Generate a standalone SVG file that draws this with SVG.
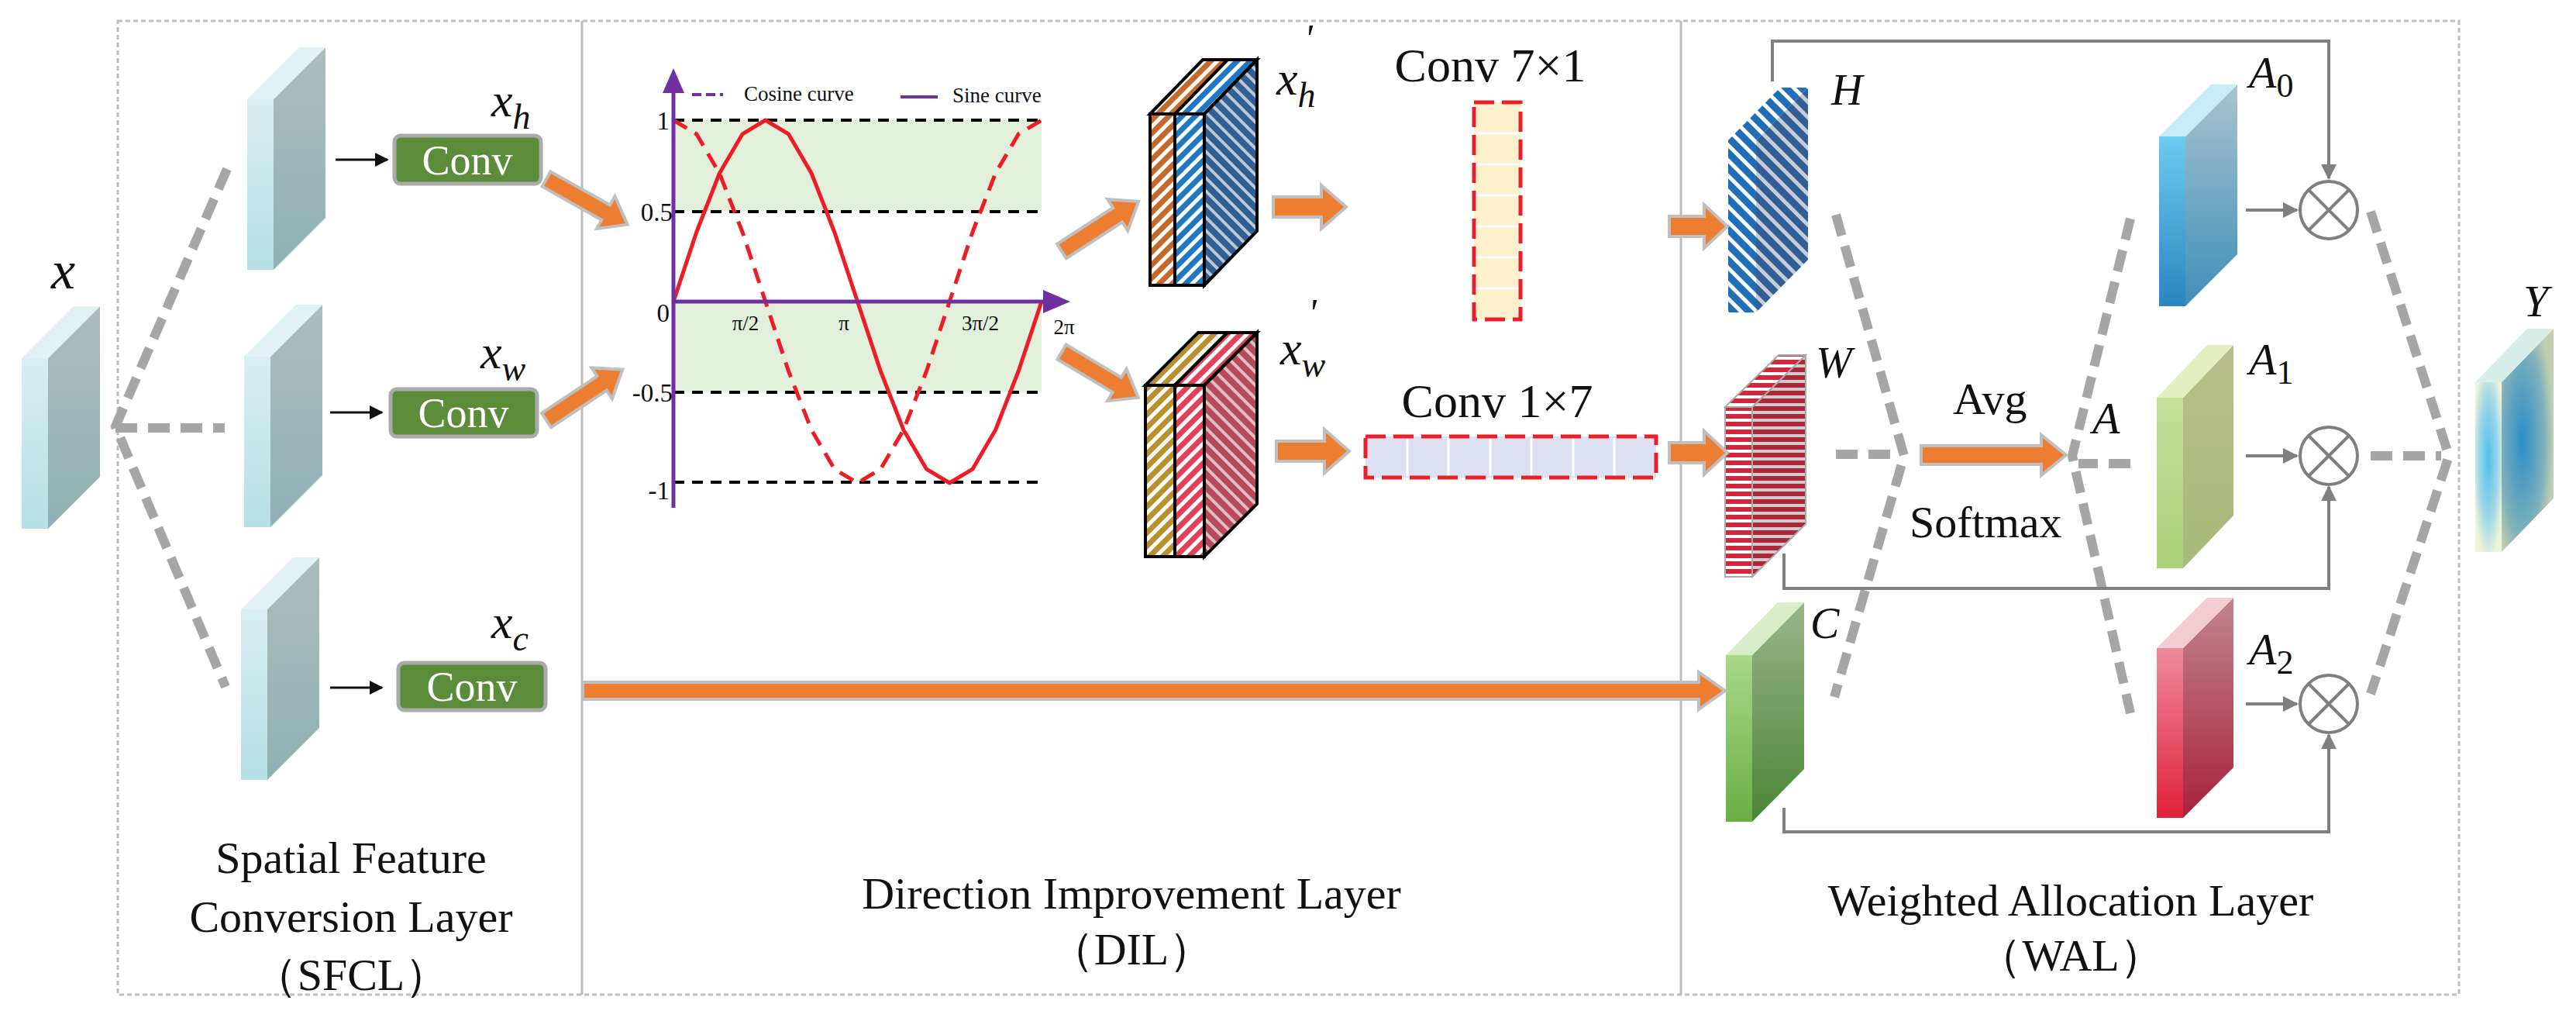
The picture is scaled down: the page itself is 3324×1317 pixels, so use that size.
<svg xmlns="http://www.w3.org/2000/svg" width="3324" height="1317" viewBox="0 0 3324 1317">
<style>
.t{font-family:"Liberation Serif",serif;fill:#111}
.m{font-family:"Liberation Serif",serif;font-style:italic;fill:#111}
.dash{fill:none;stroke:#a6a6a6;stroke-width:12;stroke-dasharray:28 14}
.gl{fill:none;stroke:#7f7f7f;stroke-width:4}
.oa{fill:#ed7d31;stroke:#bfbfbf;stroke-width:4}
.conv rect{fill:#5b8c3a;stroke:#aaaaaa;stroke-width:5}
.conv text{font-family:"Liberation Serif",serif;fill:#fff;font-size:54px}
.hl{stroke:#000;stroke-width:4;stroke-dasharray:14 10}
.cub{stroke:#000;stroke-width:4}
</style>
<defs>
<linearGradient id="gf" x1="0" y1="0" x2="0" y2="1"><stop offset="0" stop-color="#d8eef2"/><stop offset="1" stop-color="#b5dfe3"/></linearGradient>
<linearGradient id="gs" x1="0" y1="0" x2="0" y2="1"><stop offset="0" stop-color="#aebcbc"/><stop offset="1" stop-color="#8fb1b3"/></linearGradient>
<linearGradient id="a0f" x1="0" y1="0" x2="0" y2="1"><stop offset="0" stop-color="#6ccbf0"/><stop offset="1" stop-color="#2b85c0"/></linearGradient>
<linearGradient id="a0s" x1="0" y1="0" x2="0" y2="1"><stop offset="0" stop-color="#a9c3cf"/><stop offset="1" stop-color="#3f8fb8"/></linearGradient>
<linearGradient id="a1f" x1="0" y1="0" x2="0" y2="1"><stop offset="0" stop-color="#c6e09a"/><stop offset="1" stop-color="#a9d17a"/></linearGradient>
<linearGradient id="a1s" x1="0" y1="0" x2="0" y2="1"><stop offset="0" stop-color="#b8be8a"/><stop offset="1" stop-color="#a8b87a"/></linearGradient>
<linearGradient id="a2f" x1="0" y1="0" x2="0" y2="1"><stop offset="0" stop-color="#ee8a9a"/><stop offset="1" stop-color="#e0223a"/></linearGradient>
<linearGradient id="a2s" x1="0" y1="0" x2="0" y2="1"><stop offset="0" stop-color="#c08590"/><stop offset="1" stop-color="#a8223a"/></linearGradient>
<linearGradient id="cf" x1="0" y1="0" x2="0" y2="1"><stop offset="0" stop-color="#a8d88a"/><stop offset="1" stop-color="#6aae44"/></linearGradient>
<linearGradient id="cs" x1="0" y1="0" x2="0" y2="1"><stop offset="0" stop-color="#9ab58a"/><stop offset="1" stop-color="#4a8436"/></linearGradient>
<radialGradient id="yf" cx="0.5" cy="0.45" r="0.6"><stop offset="0" stop-color="#4fc0ea"/><stop offset="0.6" stop-color="#9fd7e8"/><stop offset="1" stop-color="#eef4d8"/></radialGradient>
<radialGradient id="ys" cx="0.4" cy="0.5" r="0.6"><stop offset="0" stop-color="#2a8fc8"/><stop offset="0.7" stop-color="#7fb0bb"/><stop offset="1" stop-color="#bfcfb0"/></radialGradient>
<pattern id="pOr" width="12" height="12" patternUnits="userSpaceOnUse" patternTransform="rotate(45)"><rect width="12" height="12" fill="#c5692b"/><rect width="5" height="12" fill="#fff"/></pattern>
<pattern id="pBl" width="12" height="12" patternUnits="userSpaceOnUse" patternTransform="rotate(45)"><rect width="12" height="12" fill="#1f78c1"/><rect width="5" height="12" fill="#fff"/></pattern>
<pattern id="pDb" width="12" height="12" patternUnits="userSpaceOnUse" patternTransform="rotate(-45)"><rect width="12" height="12" fill="#2f5f96"/><rect width="4" height="12" fill="#bfc8d0"/></pattern>
<pattern id="pGd" width="12" height="12" patternUnits="userSpaceOnUse" patternTransform="rotate(45)"><rect width="12" height="12" fill="#b8902c"/><rect width="5" height="12" fill="#fff"/></pattern>
<pattern id="pRd" width="12" height="12" patternUnits="userSpaceOnUse" patternTransform="rotate(45)"><rect width="12" height="12" fill="#e0405a"/><rect width="5" height="12" fill="#fff"/></pattern>
<pattern id="pDr" width="12" height="12" patternUnits="userSpaceOnUse" patternTransform="rotate(-45)"><rect width="12" height="12" fill="#b8485a"/><rect width="4" height="12" fill="#d8c0c4"/></pattern>
<pattern id="pH" width="14" height="14" patternUnits="userSpaceOnUse" patternTransform="rotate(-45)"><rect width="14" height="14" fill="#1f6fb8"/><rect width="5" height="14" fill="#fff"/></pattern>
<pattern id="pHs" width="14" height="14" patternUnits="userSpaceOnUse" patternTransform="rotate(-45)"><rect width="14" height="14" fill="#2f5f96"/><rect width="5" height="14" fill="#c8ccd4"/></pattern>
<pattern id="pW" width="10" height="10" patternUnits="userSpaceOnUse"><rect width="10" height="10" fill="#d0283c"/><rect width="10" height="4" fill="#fff"/></pattern>
<pattern id="pWs" width="10" height="10" patternUnits="userSpaceOnUse"><rect width="10" height="10" fill="#a82a38"/><rect width="10" height="4" fill="#d8c8cc"/></pattern>
<g id="blk"><rect x="0" y="0" width="34" height="220" fill="url(#gf)"/><path d="M34,0 L101,-67 L101,153 L34,220 Z" fill="url(#gs)"/><path d="M0,0 L67,-67 L101,-67 L34,0 Z" fill="#e2f2f4"/></g>
<marker id="ah" viewBox="0 0 10 10" refX="9" refY="5" markerWidth="5" markerHeight="5" orient="auto"><path d="M0,0 L10,5 L0,10 Z" fill="#7f7f7f"/></marker>
<marker id="ak" viewBox="0 0 10 10" refX="9" refY="5" markerWidth="6" markerHeight="6" orient="auto"><path d="M0,0 L10,5 L0,10 Z" fill="#111"/></marker>
</defs>
<rect width="3324" height="1317" fill="#fff"/>
<!-- frame -->
<g id="frame" fill="none" stroke="#bdbdbd" stroke-width="3">
<rect x="152" y="27" width="3021" height="1256" stroke-dasharray="6 4"/>
<line x1="751" y1="27" x2="751" y2="1283"/>
<line x1="2169" y1="27" x2="2169" y2="1283"/>
</g>
<!-- input -->
<g id="input"><use href="#blk" x="28" y="462"/><text class="m" x="66" y="372" font-size="70">x</text></g>
<g id="sfcl">
<use href="#blk" x="319" y="128"/><use href="#blk" x="315" y="460"/><use href="#blk" x="311" y="786"/>
</g>
<g id="conv_h" class="conv"><rect x="509" y="175" width="189" height="62" rx="8"/><text x="603" y="225" text-anchor="middle">Conv</text></g>
<g id="conv_w" class="conv"><rect x="504" y="502" width="189" height="61" rx="8"/><text x="598" y="551" text-anchor="middle">Conv</text></g>
<g id="conv_c" class="conv"><rect x="514" y="855" width="190" height="61" rx="8"/><text x="609" y="904" text-anchor="middle">Conv</text></g>
<g id="labels_sfcl">
<text class="m" x="634" y="150" font-size="62">x<tspan font-size="46" dy="16">h</tspan></text>
<text class="m" x="620" y="475" font-size="62">x<tspan font-size="46" dy="16">w</tspan></text>
<text class="m" x="634" y="823" font-size="62">x<tspan font-size="46" dy="16">c</tspan></text>
<text class="t" x="453" y="1126" font-size="58" text-anchor="middle">Spatial Feature</text>
<text class="t" x="453" y="1202" font-size="58" text-anchor="middle">Conversion Layer</text>
<text class="t" x="453" y="1277" font-size="58" text-anchor="middle">（SFCL）</text>
</g>
<!-- chart -->
<g id="chart">
<rect x="869" y="155" width="475" height="118" fill="#e2efda"/>
<rect x="869" y="389" width="475" height="117" fill="#e2efda"/>
<g class="hl"><line x1="869" y1="155" x2="1344" y2="155"/><line x1="869" y1="273" x2="1344" y2="273"/><line x1="869" y1="506" x2="1344" y2="506"/><line x1="869" y1="622" x2="1344" y2="622"/></g>
<polyline fill="none" stroke="#ee1c25" stroke-width="5" stroke-linejoin="round" points="869,389 898.7,299.5 928.4,223.5 958.1,172.8 987.75,155 1017.4,172.8 1047.1,223.5 1076.8,299.5 1106.5,389 1136.2,478.5 1165.9,554.5 1195.6,605.2 1225.25,623 1254.9,605.2 1284.6,554.5 1314.3,478.5 1344,389"/>
<polyline fill="none" stroke="#ee1c25" stroke-width="5" stroke-dasharray="20 12" points="869,155 898.7,172.8 928.4,223.5 958.1,299.5 987.75,389 1017.4,478.5 1047.1,554.5 1076.8,605.2 1106.5,623 1136.2,605.2 1165.9,554.5 1195.6,478.5 1225.25,389 1254.9,299.5 1284.6,223.5 1314.3,172.8 1344,155"/>
<line x1="869" y1="655" x2="869" y2="110" stroke="#7030a0" stroke-width="5"/>
<path d="M869,88 L855,120 L883,120 Z" fill="#7030a0"/>
<line x1="869" y1="389" x2="1350" y2="389" stroke="#7030a0" stroke-width="5"/>
<path d="M1381,389 L1346,374 L1346,404 Z" fill="#7030a0"/>
<line x1="893" y1="122" x2="933" y2="122" stroke="#7030a0" stroke-width="4" stroke-dasharray="12 6"/>
<line x1="1162" y1="125" x2="1210" y2="125" stroke="#7030a0" stroke-width="4"/>
<g class="t" font-size="27"><text x="960" y="130">Cosine curve</text><text x="1229" y="132">Sine curve</text></g>
<g class="t" font-size="33" text-anchor="end"><text x="864" y="167">1</text><text x="868" y="285">0.5</text><text x="864" y="415">0</text><text x="868" y="518">-0.5</text><text x="864" y="644">-1</text></g>
<g class="t" font-size="27" text-anchor="middle"><text x="962" y="426">π/2</text><text x="1089" y="426">π</text><text x="1265" y="426">3π/2</text><text x="1373" y="431">2π</text></g>
</g>
<!-- cubes -->
<g id="xh_cube" class="cub">
<path d="M1484,147 L1552,77 L1590,77 L1522,147 Z" fill="url(#pOr)"/>
<path d="M1516,147 L1584,77 L1622,77 L1554,147 Z" fill="url(#pBl)"/>
<path d="M1554,147 L1622,77 L1622,298 L1554,368 Z" fill="url(#pDb)"/>
<rect x="1484" y="147" width="32" height="221" fill="url(#pOr)"/>
<rect x="1516" y="147" width="38" height="221" fill="url(#pBl)"/>
<text class="m" x="1647" y="122" font-size="62" stroke="none">x<tspan font-size="46" dy="16">h</tspan></text>
<text class="m" x="1683" y="66" font-size="50" stroke="none">'</text>
</g>
<g id="xw_cube" class="cub">
<path d="M1478,497 L1546,429 L1584,429 L1516,497 Z" fill="url(#pGd)"/>
<path d="M1516,497 L1584,429 L1622,429 L1554,497 Z" fill="url(#pRd)"/>
<path d="M1554,497 L1622,429 L1622,650 L1554,718 Z" fill="url(#pDr)"/>
<rect x="1478" y="497" width="38" height="221" fill="url(#pGd)"/>
<rect x="1516" y="497" width="38" height="221" fill="url(#pRd)"/>
<text class="m" x="1652" y="470" font-size="62" stroke="none">x<tspan font-size="46" dy="16">w</tspan></text>
<text class="m" x="1688" y="420" font-size="50" stroke="none">'</text>
</g>
<g id="k71">
<text class="t" x="1923" y="105" font-size="62" text-anchor="middle">Conv 7×1</text>
<rect x="1902" y="132" width="60" height="280" fill="#fcf1cc"/>
<g stroke="#fff" stroke-width="3"><line x1="1904" y1="172" x2="1960" y2="172"/><line x1="1904" y1="212" x2="1960" y2="212"/><line x1="1904" y1="252" x2="1960" y2="252"/><line x1="1904" y1="292" x2="1960" y2="292"/><line x1="1904" y1="332" x2="1960" y2="332"/><line x1="1904" y1="372" x2="1960" y2="372"/></g>
<rect x="1902" y="132" width="60" height="280" fill="none" stroke="#e8202a" stroke-width="5" stroke-dasharray="26 10"/>
</g>
<g id="k17">
<text class="t" x="1932" y="538" font-size="62" text-anchor="middle">Conv 1×7</text>
<rect x="1762" y="563" width="375" height="53" fill="#dde0f0"/>
<g stroke="#fff" stroke-width="3"><line x1="1816" y1="565" x2="1816" y2="614"/><line x1="1869" y1="565" x2="1869" y2="614"/><line x1="1923" y1="565" x2="1923" y2="614"/><line x1="1976" y1="565" x2="1976" y2="614"/><line x1="2030" y1="565" x2="2030" y2="614"/><line x1="2083" y1="565" x2="2083" y2="614"/></g>
<rect x="1762" y="563" width="375" height="53" fill="none" stroke="#e8202a" stroke-width="5" stroke-dasharray="26 10"/>
</g>
<g id="dil_label"><text class="t" x="1460" y="1172" font-size="58" text-anchor="middle">Direction Improvement Layer</text><text class="t" x="1460" y="1244" font-size="58" text-anchor="middle">（DIL）</text></g>
<!-- WAL blocks -->
<g id="H"><rect x="2230" y="181" width="36" height="222" fill="url(#pH)"/><path d="M2266,181 L2333,113 L2333,335 L2266,403 Z" fill="url(#pHs)"/><path d="M2230,181 L2297,113 L2333,113 L2266,181 Z" fill="url(#pH)"/><text class="m" x="2363" y="135" font-size="56">H</text></g>
<g id="W"><rect x="2226" y="525" width="35" height="219" fill="url(#pW)" stroke="#aaa" stroke-width="2"/><path d="M2261,525 L2330,458 L2330,676 L2261,744 Z" fill="url(#pWs)" stroke="#aaa" stroke-width="2"/><path d="M2226,525 L2295,458 L2330,458 L2261,525 Z" fill="url(#pW)" stroke="#aaa" stroke-width="2"/><text class="m" x="2343" y="487" font-size="56">W</text></g>
<g id="C"><rect x="2227" y="845" width="34" height="215" fill="url(#cf)"/><path d="M2261,845 L2328,777 L2328,992 L2261,1060 Z" fill="url(#cs)"/><path d="M2227,845 L2294,777 L2328,777 L2261,845 Z" fill="#d8ecc8"/><text class="m" x="2336" y="823" font-size="56">C</text></g>
<g id="A0"><rect x="2786" y="176" width="34" height="219" fill="url(#a0f)"/><path d="M2820,176 L2887,109 L2887,328 L2820,395 Z" fill="url(#a0s)"/><path d="M2786,176 L2853,109 L2887,109 L2820,176 Z" fill="#c8ecf8"/><text class="m" x="2902" y="113" font-size="58">A<tspan font-size="44" dy="12" font-style="normal">0</tspan></text></g>
<g id="A1"><rect x="2783" y="513" width="34" height="220" fill="url(#a1f)"/><path d="M2817,513 L2882,445 L2882,665 L2817,733 Z" fill="url(#a1s)"/><path d="M2783,513 L2848,445 L2882,445 L2817,513 Z" fill="#e4efc0"/><text class="m" x="2902" y="483" font-size="58">A<tspan font-size="44" dy="12" font-style="normal">1</tspan></text></g>
<g id="A2"><rect x="2783" y="836" width="34" height="219" fill="url(#a2f)"/><path d="M2817,836 L2882,771 L2882,990 L2817,1055 Z" fill="url(#a2s)"/><path d="M2783,836 L2848,771 L2882,771 L2817,836 Z" fill="#f6ccd4"/><text class="m" x="2902" y="857" font-size="58">A<tspan font-size="44" dy="12" font-style="normal">2</tspan></text></g>
<g id="Y"><rect x="3194" y="493" width="34" height="219" fill="url(#yf)"/><path d="M3228,493 L3295,424 L3295,643 L3228,712 Z" fill="url(#ys)"/><path d="M3194,493 L3261,424 L3295,424 L3228,493 Z" fill="#d8eee8"/><text class="m" x="3256" y="408" font-size="58">Y</text></g>
<g id="mul" fill="none" stroke="#7f7f7f" stroke-width="4">
<circle cx="3005" cy="271" r="37"/><path d="M2979,245 L3031,297 M3031,245 L2979,297"/>
<circle cx="3005" cy="588" r="37"/><path d="M2979,562 L3031,614 M3031,562 L2979,614"/>
<circle cx="3005" cy="908" r="37"/><path d="M2979,882 L3031,934 M3031,882 L2979,934"/>
</g>
<g id="wal_text"><text class="t" x="2520" y="534" font-size="58">Avg</text><text class="t" x="2464" y="693" font-size="58">Softmax</text><text class="m" x="2700" y="559" font-size="58">A</text>
<text class="t" x="2672" y="1181" font-size="58" text-anchor="middle">Weighted Allocation Layer</text><text class="t" x="2672" y="1252" font-size="58" text-anchor="middle">（WAL）</text></g>
<!-- connectors -->
<g id="connectors">
<path class="dash" d="M293,218 L149,550 L291,886 M149,552 L290,552"/>
<path class="dash" d="M2369,277 L2457,588 L2367,899 M2369,586 L2450,586"/>
<path class="dash" d="M2749,282 L2674,588 L2749,920 M2749,598 L2682,598"/>
<path class="dash" d="M3059,273 L3160,588 L3059,895 M3059,588 L3150,588"/>
<line x1="433" y1="206" x2="500" y2="206" stroke="#111" stroke-width="3" marker-end="url(#ak)"/>
<line x1="426" y1="532" x2="493" y2="532" stroke="#111" stroke-width="3" marker-end="url(#ak)"/>
<line x1="426" y1="887" x2="493" y2="887" stroke="#111" stroke-width="3" marker-end="url(#ak)"/>
<path class="gl" d="M2287,105 V53 H3005 V230" marker-end="url(#ah)"/>
<path class="gl" d="M2302,714 V759 H3005 V628" marker-end="url(#ah)"/>
<path class="gl" d="M2302,1042 V1073 H3005 V948" marker-end="url(#ah)"/>
<line class="gl" x1="2898" y1="271" x2="2964" y2="271" marker-end="url(#ah)"/>
<line class="gl" x1="2898" y1="588" x2="2964" y2="588" marker-end="url(#ah)"/>
<line class="gl" x1="2898" y1="908" x2="2964" y2="908" marker-end="url(#ah)"/>
<path class="oa" transform="translate(705,231) rotate(29.3)" d="M0,-11 H88 V-24 L120,0 L88,24 V11 H0 Z"/>
<path class="oa" transform="translate(705,542) rotate(-33.6)" d="M0,-11 H86 V-24 L118,0 L86,24 V11 H0 Z"/>
<path class="oa" transform="translate(752,891)" d="M0,-11 H1440 V-24 L1474,0 L1440,24 V11 H0 Z"/>
<path class="oa" transform="translate(1370,324) rotate(-32.9)" d="M0,-11 H86 V-24 L118,0 L86,24 V11 H0 Z"/>
<path class="oa" transform="translate(1370,454) rotate(30.8)" d="M0,-11 H83 V-24 L115,0 L83,24 V11 H0 Z"/>
<path class="oa" transform="translate(1643,267)" d="M0,-13 H62 V-28 L94,0 L62,28 V13 H0 Z"/>
<path class="oa" transform="translate(1647,582)" d="M0,-13 H62 V-28 L94,0 L62,28 V13 H0 Z"/>
<path class="oa" transform="translate(2154,292)" d="M0,-13 H45 V-28 L75,0 L45,28 V13 H0 Z"/>
<path class="oa" transform="translate(2154,584)" d="M0,-13 H45 V-28 L75,0 L45,28 V13 H0 Z"/>
<path class="oa" transform="translate(2479,587)" d="M0,-12 H155 V-26 L187,0 L155,26 V12 H0 Z"/>
</g>
</svg>
